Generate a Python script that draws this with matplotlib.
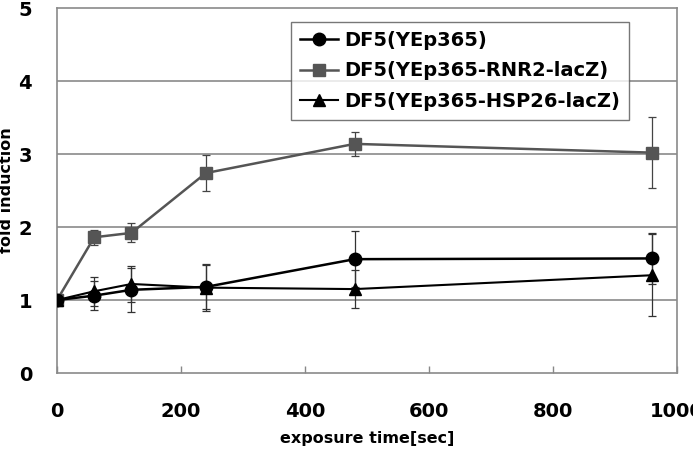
import matplotlib
matplotlib.use('Agg')
import matplotlib.pyplot as plt
from matplotlib.lines import Line2D

plt.rcParams['font.family'] = ['DejaVu Sans']

# 照射時間 (sec)
times = [0, 60, 120, 240, 480, 960]

# 各株の誘導倍率と誤差
yep365 = [1.0, 1.06, 1.14, 1.18, 1.56, 1.57]
yep365_err = [0.0, 0.2, 0.3, 0.3, 0.38, 0.35]
rnr2 = [1.0, 1.86, 1.92, 2.74, 3.14, 3.02]
rnr2_err = [0.0, 0.1, 0.13, 0.25, 0.16, 0.49]
hsp26 = [1.0, 1.12, 1.22, 1.17, 1.15, 1.34]
hsp26_err = [0.0, 0.2, 0.25, 0.32, 0.26, 0.56]

labels = ['DF5(YEp365)', 'DF5(YEp365-RNR2-lacZ)', 'DF5(YEp365-HSP26-lacZ)']

fig = plt.figure(figsize=(6.93, 4.53), dpi=100)
ax = fig.add_axes([0.0823, 0.1766, 0.8947, 0.8054])

# グリッド線
for g in [1, 2, 3, 4]:
    ax.axhline(g, color='#8a8a8a', lw=1.2, zorder=0)

ax.errorbar(times, yep365, yerr=yep365_err, color='black', marker='o', ms=9,
            lw=1.8, elinewidth=0.9, ecolor='#333333', capsize=3, capthick=0.9,
            zorder=3)
ax.errorbar(times, rnr2, yerr=rnr2_err, color='#555555', marker='s', ms=9,
            lw=1.8, elinewidth=0.9, ecolor='#444444', capsize=3, capthick=0.9,
            zorder=2)
ax.errorbar(times, hsp26, yerr=hsp26_err, color='black', marker='^', ms=9,
            lw=1.5, elinewidth=0.9, ecolor='#333333', capsize=3, capthick=0.9,
            zorder=3)

ax.set_xlim(0, 1000)
ax.set_ylim(0, 5)
ax.set_xticks([0, 200, 400, 600, 800, 1000])
ax.set_yticks([0, 1, 2, 3, 4, 5])
ax.tick_params(axis='x', direction='in', length=5, width=1, color='#888888',
               pad=21, labelsize=14)
ax.tick_params(axis='y', length=0, pad=18, labelsize=14)
for t in ax.get_xticklabels() + ax.get_yticklabels():
    t.set_fontweight('bold')
for s in ax.spines.values():
    s.set_color('#8a8a8a')
    s.set_linewidth(1.2)

ax.set_xlabel('exposure time[sec]', fontsize=11.5, fontweight='bold',
              labelpad=7)
ax.yaxis.set_label_coords(-0.07, 0.5)
ax.set_ylabel('fold induction', fontsize=11.5, fontweight='bold')

handles = [
    Line2D([], [], color='black', marker='o', ms=9, lw=1.8),
    Line2D([], [], color='#555555', marker='s', ms=9, lw=1.8),
    Line2D([], [], color='black', marker='^', ms=9, lw=1.5),
]
leg = ax.legend(handles, labels, loc='upper left',
                bbox_to_anchor=(0.377, 0.962), fontsize=14,
                frameon=True, fancybox=False, edgecolor='#555555',
                handlelength=2.0, borderpad=0.45, labelspacing=0.6,
                handletextpad=0.3, borderaxespad=0)
leg.get_frame().set_linewidth(1.0)
for t in leg.get_texts():
    t.set_fontweight('bold')

fig.savefig('out.png', dpi=100)
